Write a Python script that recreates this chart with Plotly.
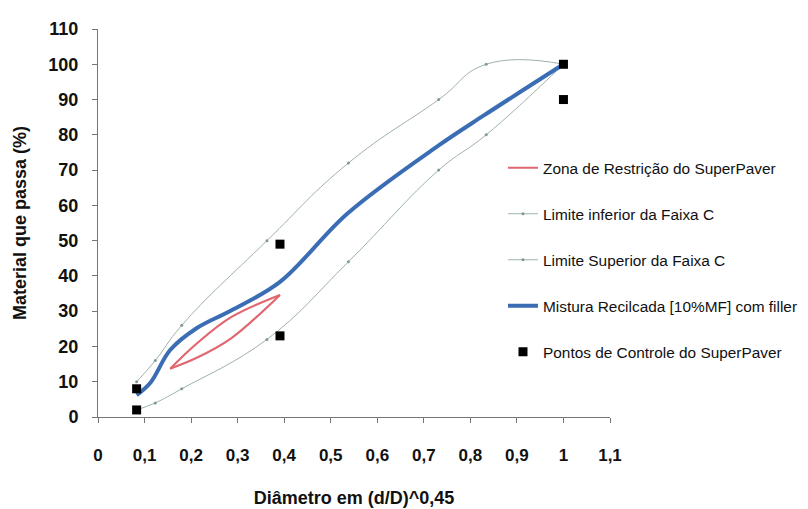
import plotly.graph_objects as go

# Sieve openings expressed as (d/D)^0.45
x_faixa = [0.083, 0.123, 0.180, 0.363, 0.538, 0.732, 0.834, 1.0]
faixa_inferior = [2, 4, 8, 22, 44, 70, 80, 100]
faixa_superior = [10, 16, 26, 50, 72, 90, 100, 100]

# Superpave restricted zone (upper and lower boundaries)
x_zona = [0.155, 0.211, 0.286, 0.391]
zona_sup = [13.7, 20.7, 28.3, 34.6]
zona_inf = [13.7, 16.7, 22.3, 34.6]

# Recycled mixture gradation
x_mistura = [0.083, 0.113, 0.155, 0.211, 0.286, 0.391, 0.536, 0.732, 0.829, 1.0]
mistura = [6.2, 9.8, 19.0, 25.1, 30.2, 38.3, 57.7, 77.0, 85.5, 100.0]

# Superpave control points
x_controle = [0.083, 0.083, 0.391, 0.391, 1.0, 1.0]
controle = [2, 8, 23, 49, 90, 100]

x_ticks = [0, 0.1, 0.2, 0.3, 0.4, 0.5, 0.6, 0.7, 0.8, 0.9, 1.0, 1.1]
x_tick_labels = ["0", "0,1", "0,2", "0,3", "0,4", "0,5", "0,6", "0,7", "0,8", "0,9", "1", "1,1"]
y_ticks = list(range(0, 111, 10))

band_color = "#9db3a6"

fig = go.Figure()

fig.add_trace(go.Scatter(
    x=x_zona + [None] + x_zona,
    y=zona_sup + [None] + zona_inf,
    mode="lines",
    line=dict(color="#e0676f", width=2.2, shape="spline"),
    connectgaps=False,
    name="Zona de Restrição do SuperPaver",
    legendgroup="g1",
))
fig.add_trace(go.Scatter(
    x=x_faixa, y=faixa_inferior,
    mode="lines+markers",
    line=dict(color=band_color, width=1, shape="spline", smoothing=1.2),
    marker=dict(size=3, color="#7f9c8b"),
    name="Limite inferior da Faixa C",
    legendgroup="g2",
))
fig.add_trace(go.Scatter(
    x=x_faixa, y=faixa_superior,
    mode="lines+markers",
    line=dict(color=band_color, width=1, shape="spline", smoothing=1.3),
    marker=dict(size=3, color="#7f9c8b"),
    name="Limite Superior da Faixa C",
    legendgroup="g3",
))
fig.add_trace(go.Scatter(
    x=x_mistura, y=mistura,
    mode="lines",
    line=dict(color="#3a6db4", width=4, shape="spline"),
    name="Mistura Recilcada [10%MF] com filler",
    legendgroup="g4",
))
fig.add_trace(go.Scatter(
    x=x_controle, y=controle,
    mode="markers",
    marker=dict(symbol="square", size=9, color="#000000"),
    name="Pontos de Controle do SuperPaver",
    legendgroup="g5",
))

fig.update_layout(
    width=808, height=509,
    margin=dict(l=98, r=198, t=29, b=92, autoexpand=False),
    paper_bgcolor="white",
    plot_bgcolor="white",
    font=dict(family="Liberation Sans, Arial", color="#111111"),
    showlegend=True,
    legend=dict(
        x=0.791, y=0.685, xanchor="left", yanchor="top",
        bgcolor="rgba(0,0,0,0)",
        font=dict(family="Liberation Sans, Arial", size=15.4, color="#111111"),
        traceorder="grouped",
        tracegroupgap=23,
    ),
    xaxis=dict(
        range=[0, 1.1],
        tickmode="array", tickvals=x_ticks, ticktext=x_tick_labels,
        ticks="outside", ticklen=5, tickcolor="#777777",
        showline=True, linecolor="#777777", linewidth=1,
        showgrid=False, zeroline=False, automargin=False,
        tickfont=dict(family="Liberation Sans, Arial", size=17, color="#111111", weight="bold"),
        ticklabelstandoff=18,
        title=dict(text="<b>Diâmetro em (d/D)^0,45</b>",
                   font=dict(family="Liberation Sans, Arial", size=18, color="#111111"),
                   standoff=26),
    ),
    yaxis=dict(
        range=[0, 110],
        tickmode="array", tickvals=y_ticks,
        ticks="outside", ticklen=5, tickcolor="#777777",
        showline=True, linecolor="#777777", linewidth=1,
        showgrid=False, zeroline=False, automargin=False,
        tickfont=dict(family="Liberation Sans, Arial", size=18, color="#111111", weight="bold"),
        ticklabelstandoff=10,
        title=dict(text="<b>Material que passa (%)</b>",
                   font=dict(family="Liberation Sans, Arial", size=18, color="#111111"),
                   standoff=17),
    ),
)

fig.write_html("out.html")
